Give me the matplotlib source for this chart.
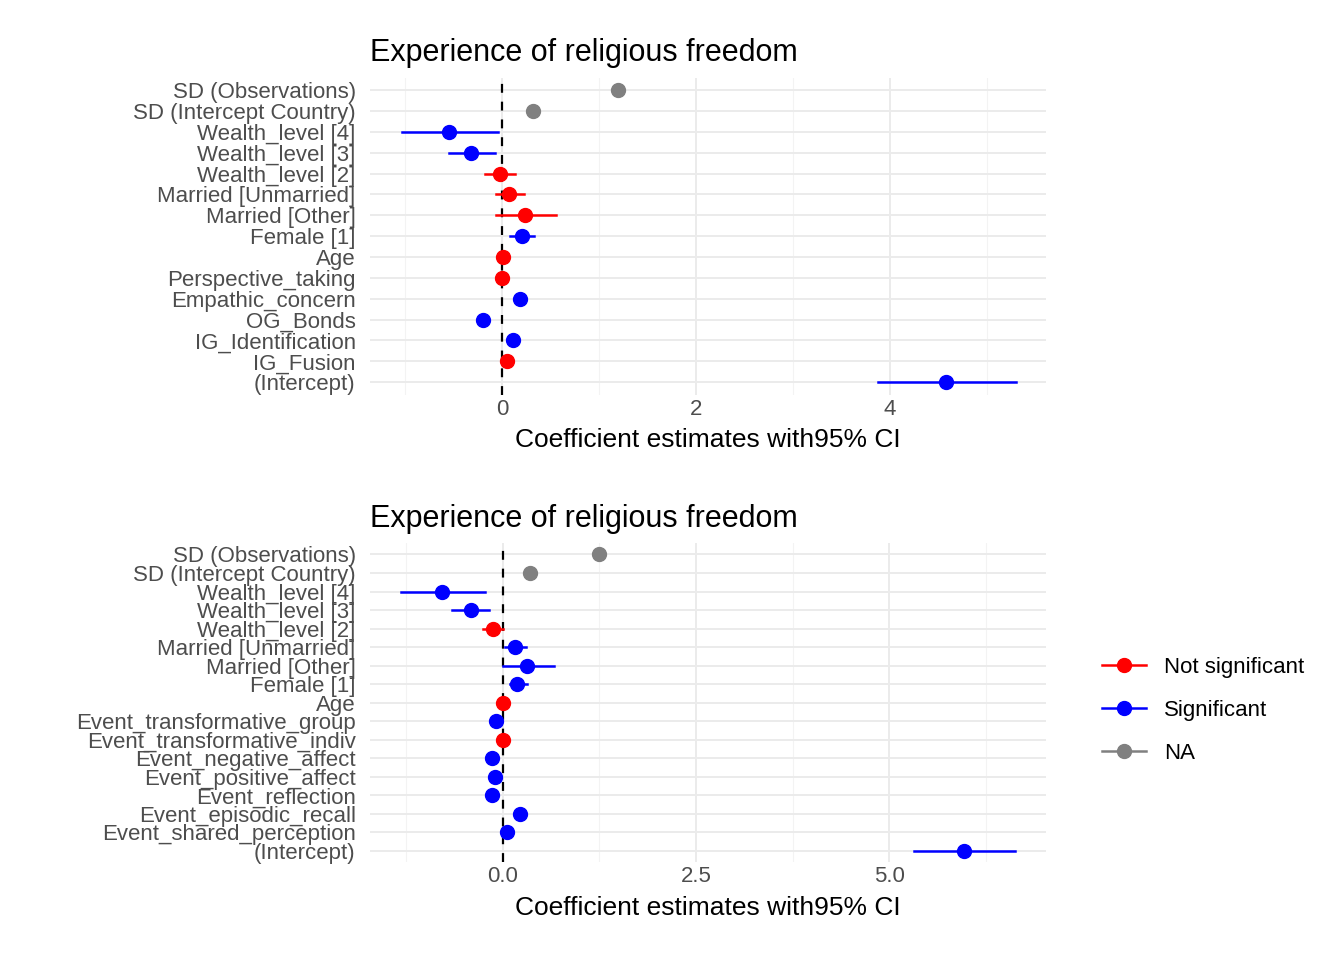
import matplotlib.pyplot as plt
from matplotlib.lines import Line2D
from matplotlib.ticker import MultipleLocator

plt.rcParams['font.family'] = ['Liberation Sans', 'DejaVu Sans']

colors = {"ns": "#FF0000", "s": "#0000FF", "na": "#808080"}

terms1 = ["SD (Observations)", "SD (Intercept Country)", "Wealth_level [4]", "Wealth_level [3]",
          "Wealth_level [2]", "Married [Unmarried]", "Married [Other]", "Female [1]", "Age",
          "Perspective_taking", "Empathic_concern", "OG_Bonds", "IG_Identification", "IG_Fusion",
          "(Intercept)"]
est1 = [1.19, 0.32, -0.55, -0.32, -0.02, 0.07, 0.23, 0.20, 0.01, 0.0, 0.18, -0.20, 0.11, 0.05, 4.58]
lo1 = [None, None, -1.04, -0.55, -0.18, -0.06, -0.06, 0.08, 0.0, -0.01, 0.15, -0.24, 0.07, 0.02, 3.88]
hi1 = [None, None, -0.04, -0.08, 0.13, 0.22, 0.55, 0.33, 0.02, 0.01, 0.21, -0.16, 0.15, 0.08, 5.30]
sig1 = ["na", "na", "s", "s", "ns", "ns", "ns", "s", "ns", "ns", "s", "s", "s", "ns", "s"]

terms2 = ["SD (Observations)", "SD (Intercept Country)", "Wealth_level [4]", "Wealth_level [3]",
          "Wealth_level [2]", "Married [Unmarried]", "Married [Other]", "Female [1]", "Age",
          "Event_transformative_group", "Event_transformative_indiv", "Event_negative_affect",
          "Event_positive_affect", "Event_reflection", "Event_episodic_recall",
          "Event_shared_perception", "(Intercept)"]
est2 = [1.24, 0.36, -0.79, -0.41, -0.13, 0.16, 0.32, 0.19, 0.0, -0.08, 0.0, -0.14, -0.10, -0.14,
        0.22, 0.06, 5.96]
lo2 = [None, None, -1.32, -0.66, -0.25, 0.03, 0.01, 0.09, -0.01, -0.12, -0.02, -0.18, -0.14, -0.18,
       0.18, 0.02, 5.32]
hi2 = [None, None, -0.23, -0.17, 0.0, 0.30, 0.66, 0.31, 0.01, -0.04, 0.02, -0.10, -0.06, -0.10,
       0.26, 0.10, 6.63]
sig2 = ["na", "na", "s", "s", "ns", "s", "s", "s", "ns", "s", "ns", "s", "s", "s", "s", "s", "s"]

fig = plt.figure(figsize=(13.44, 9.6), dpi=100)
ax1 = fig.add_axes([0.275, 0.589, 0.503, 0.330])
ax2 = fig.add_axes([0.275, 0.102, 0.503, 0.332])


def panel(ax, terms, est, lo, hi, sig, xlim, major, minor):
    n = len(terms)
    ys = list(range(n - 1, -1, -1))
    for y, e, l, h, s in zip(ys, est, lo, hi, sig):
        c = colors[s]
        if l is not None:
            ax.plot([l, h], [y, y], color=c, lw=1.8, zorder=3)
        ax.plot(e, y, "o", color=c, ms=10, zorder=4)
    ax.axvline(0, color="black", ls=(0, (4, 4)), lw=1.6, zorder=2)
    ax.set_yticks(ys)
    ax.set_yticklabels(terms, fontsize=16, color="#4D4D4D")
    ax.set_ylim(-0.6, n - 0.4)
    ax.set_xlim(*xlim)
    ax.xaxis.set_major_locator(MultipleLocator(major))
    ax.xaxis.set_minor_locator(MultipleLocator(minor))
    ax.grid(which="major", color="#EBEBEB", lw=1.4)
    ax.grid(which="minor", axis="x", color="#F3F3F3", lw=0.8)
    ax.set_axisbelow(True)
    ax.tick_params(length=0, which="both", labelsize=16, labelcolor="#4D4D4D", pad=3)
    ax.tick_params(axis="y", pad=10, labelsize=16)
    for sp in ax.spines.values():
        sp.set_visible(False)
    ax.set_xlabel("Coefficient estimates with95% CI", fontsize=19, labelpad=6)
    ax.set_title("Experience of religious freedom", fontsize=22, loc="left", pad=12)


panel(ax1, terms1, est1, lo1, hi1, sig1, (-1.37, 5.61), 2, 1)
ax1.xaxis.set_major_formatter(plt.FuncFormatter(lambda v, p: f"{v:.0f}"))
panel(ax2, terms2, est2, lo2, hi2, sig2, (-1.72, 7.02), 2.5, 1.25)
ax2.xaxis.set_major_formatter(plt.FuncFormatter(lambda v, p: f"{v:.1f}"))

handles = [Line2D([], [], color=colors[k], marker="o", ms=10, lw=1.8) for k in ["ns", "s", "na"]]
fig.legend(handles, ["Not significant", "Significant", "NA"], loc="center left",
           bbox_to_anchor=(0.805, 0.26), frameon=False, fontsize=16, labelspacing=1.0,
           handlelength=2)

fig.savefig("out.png", dpi=100, facecolor="white")
